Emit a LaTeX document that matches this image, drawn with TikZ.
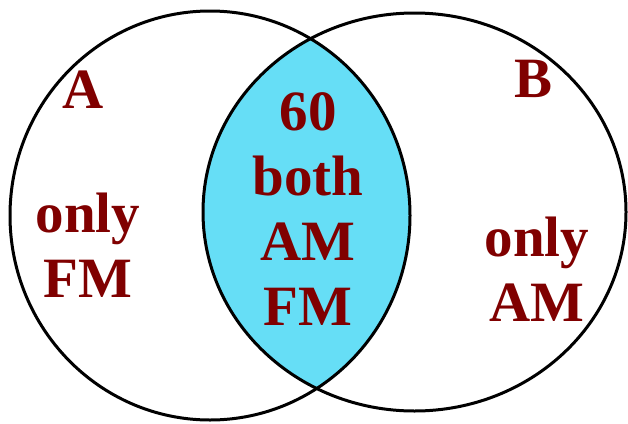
\documentclass[tikz,border=0pt]{standalone}
\usepackage{fontspec}
\setmainfont{Liberation Serif}
\definecolor{lenscyan}{RGB}{102,222,246}
\definecolor{labelred}{RGB}{128,0,0}
\tikzset{
  lbl/.style={anchor=base, text=labelred, font=\fontsize{57}{65}\selectfont\bfseries, inner sep=0pt},
  rim/.style={line width=3pt, black}
}
\begin{document}
\begin{tikzpicture}[x=1pt,y=-1pt]
\useasboundingbox (0,0) rectangle (628,423);
\fill[white] (0,0) rectangle (628,423);
\begin{scope}
  \clip (210,215.5) ellipse [x radius=200, y radius=204.5];
  \fill[lenscyan] (414.5,212) ellipse [x radius=211.5, y radius=199];
\end{scope}
\draw[rim] (210,215.5) ellipse [x radius=200, y radius=204.5];
\draw[rim] (414.5,212) ellipse [x radius=211.5, y radius=199];
\node[lbl] (a) at (83,108) {A};
\node[lbl] (aonly) at (88,232) {only};
\node[lbl] (afm) at (88,297) {FM};
\node[lbl] (n60) at (308,130) {60};
\node[lbl] (both) at (308,195) {both};
\node[lbl] (bam) at (308,260) {AM};
\node[lbl] (bfm) at (308,325) {FM};
\node[lbl] (b) at (533,97) {B};
\node[lbl] (bonly) at (537,256) {only};
\node[lbl] (bam2) at (537,321) {AM};
\end{tikzpicture}
\end{document}
